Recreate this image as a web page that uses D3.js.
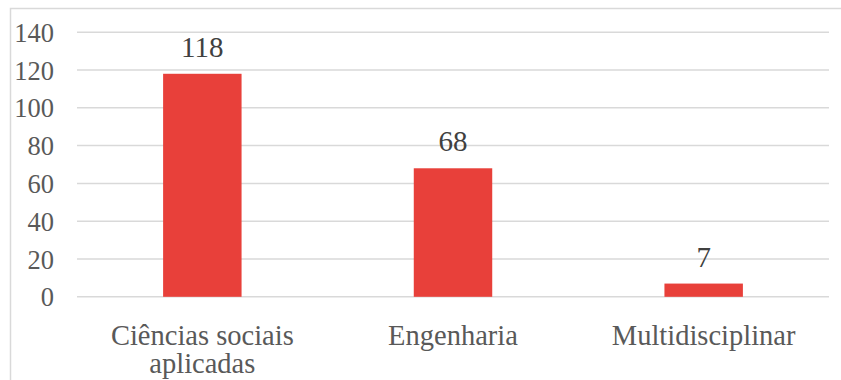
<!DOCTYPE html>
<html>
<head>
<meta charset="utf-8">
<script src="https://cdn.jsdelivr.net/npm/d3@7"></script>
<style>
html,body{margin:0;padding:0;background:#fff;}
svg{display:block;}
</style>
</head>
<body>
<svg id="chart" width="841" height="380"></svg>
<script>
const categories = [["Ciências sociais", "aplicadas"], ["Engenharia"], ["Multidisciplinar"]];
const values = [118, 68, 7];
const yTicks = [0, 20, 40, 60, 80, 100, 120, 140];

(function () {
const svg = d3.select("#chart");
const W = 841, H = 380;
const font = '"Liberation Serif", "Times New Roman", serif';

svg.append("rect").attr("x", 10.5).attr("y", 8.5).attr("width", W).attr("height", H)
  .attr("fill", "#fff").attr("stroke", "#d9d9d9").attr("stroke-width", 1.5);

const mLeft = 77, mRight = 829, mTop = 32.2, mBottom = 296.8;

const x = d3.scaleBand().domain(d3.range(values.length)).range([mLeft, mRight])
  .paddingInner(0.687).paddingOuter(0.3435);
const y = d3.scaleLinear().domain([0, 140]).range([mBottom, mTop]);

// gridlines
svg.append("g").selectAll("line").data(yTicks).join("line")
  .attr("x1", mLeft).attr("x2", mRight)
  .attr("y1", d => y(d)).attr("y2", d => y(d))
  .attr("stroke", "#d9d9d9").attr("stroke-width", 1.5);

// y tick labels
svg.append("g").selectAll("text").data(yTicks).join("text")
  .attr("x", 54).attr("y", d => y(d) + 9.5)
  .attr("text-anchor", "end")
  .style("font-family", font).attr("font-size", 26.5).attr("fill", "#595959")
  .text(d => d);

// bars
svg.append("g").selectAll("rect").data(values).join("rect")
  .attr("x", (d, i) => x(i)).attr("width", x.bandwidth())
  .attr("y", d => y(d)).attr("height", d => y(0) - y(d))
  .attr("fill", "#e8403a");

// data labels
svg.append("g").selectAll("text").data(values).join("text")
  .attr("x", (d, i) => x(i) + x.bandwidth() / 2)
  .attr("y", d => y(d) - 17)
  .attr("text-anchor", "middle")
  .style("font-family", font).attr("font-size", 29).attr("fill", "#404040")
  .text(d => d);

// category labels
const cat = svg.append("g").selectAll("text").data(categories).join("text")
  .attr("text-anchor", "middle")
  .style("font-family", font).attr("font-size", 28.5).attr("fill", "#595959");
cat.each(function(lines, i) {
  const t = d3.select(this);
  lines.forEach((ln, j) => {
    t.append("tspan").attr("x", x(i) + x.bandwidth() / 2).attr("y", 345 + j * 28.3).text(ln);
  });
});
})();
</script>
</body>
</html>
